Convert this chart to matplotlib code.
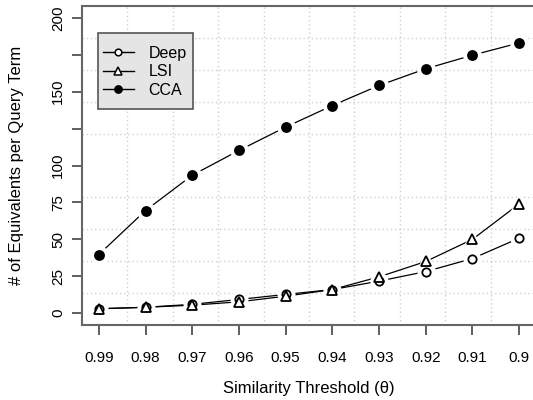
import numpy as np
import matplotlib
matplotlib.use("Agg")
import matplotlib.pyplot as plt
from matplotlib.lines import Line2D
from matplotlib.patches import Rectangle

plt.rcParams['font.family'] = ['Liberation Sans', 'DejaVu Sans']

thresholds = ['0.99', '0.98', '0.97', '0.96', '0.95', '0.94', '0.93', '0.92', '0.91', '0.9']
deep = [3, 4, 6, 9.3, 12.7, 16, 21.7, 28.2, 37, 50.8]
lsi = [3, 4, 5.4, 7.7, 11.5, 16, 24.6, 35, 50, 74]
cca = [39.7, 69.5, 93.4, 110.2, 126, 140.6, 154.2, 165.5, 174.7, 183]
ytick_vals = [0, 25, 50, 75, 100, 125, 150, 175, 200]
ytick_labels = ['0', '25', '50', '75', '100', '', '150', '', '200']

W, H = 533, 400
fig = plt.figure(figsize=(W / 100, H / 100), dpi=100)
L, R, T, B = 82, 536, 6, 325
ax = fig.add_axes([L / W, 1 - B / H, (R - L) / W, (B - T) / H])

x = np.arange(len(thresholds))
series = [
    (deep, 'o', 'white', 6.0, 'Deep'),
    (lsi, '^', 'white', 7.0, 'LSI'),
    (cca, 'o', 'black', 6.5, 'CCA'),
]
for ys, m, fc, ms, lab in series:
    ax.plot(x, ys, '-', color='black', lw=0.9, zorder=2)
for ys, m, fc, ms, lab in series:
    ax.plot(x, ys, ls='none', marker=m, ms=ms + 6, mfc='white', mec='white', zorder=3)
for ys, m, fc, ms, lab in series:
    ax.plot(x, ys, ls='none', marker=m, ms=ms, mfc=fc, mec='black', mew=1.3, zorder=4)

ax.set_xlim(-0.36, 9.36)
ax.set_ylim(-8, 208)

ax.set_xticks(x)
ax.set_xticklabels(thresholds)
ax.set_yticks(ytick_vals)
ax.set_yticklabels(ytick_labels, rotation=90, va='center')

# grid: 10 equal divisions of each axis
xl = ax.get_xlim(); yl = ax.get_ylim()
ax.set_xticks(np.linspace(xl[0], xl[1], 11)[1:-1], minor=True)
ax.set_yticks(np.linspace(yl[0], yl[1], 11)[1:-1], minor=True)
ax.grid(True, which='minor', color='#d0d0d0', ls=(0, (1, 2)), lw=1.0)
ax.tick_params(which='minor', length=0)
ax.tick_params(which='major', length=7, width=1.2, color='#444444', labelsize=11, direction='out')
ax.tick_params(axis='x', pad=12)
ax.tick_params(axis='y', pad=5)

for s in ax.spines.values():
    s.set_color('#666666')
    s.set_linewidth(1.5)

ax.set_xlabel('Similarity Threshold (θ)', fontsize=12, labelpad=11)
ax.set_ylabel('# of Equivalents per Query Term', fontsize=12)
ax.yaxis.set_label_coords(-(L - 24) / (R - L), 0.5)

# legend box
ax.add_patch(Rectangle((0.0359, 0.676), 0.209, 0.238, transform=ax.transAxes,
                       facecolor='#e5e5e5', edgecolor='#555555', lw=1.2, zorder=5))
handles = [Line2D([], [], color='black', lw=1.0, marker=m, ms=ms * 0.8, mfc=fc, mec='black', mew=1.1)
           for ys, m, fc, ms, lab in series]
labels = [s[4] for s in series]
leg = ax.legend(handles, labels, loc='center left', bbox_to_anchor=(0.0456, 0.794),
                frameon=False, fontsize=11.5, handlelength=1.94, handletextpad=0.94,
                labelspacing=0.22, borderpad=0, borderaxespad=0)
leg.set_zorder(6)

fig.savefig('out.png', dpi=100)
